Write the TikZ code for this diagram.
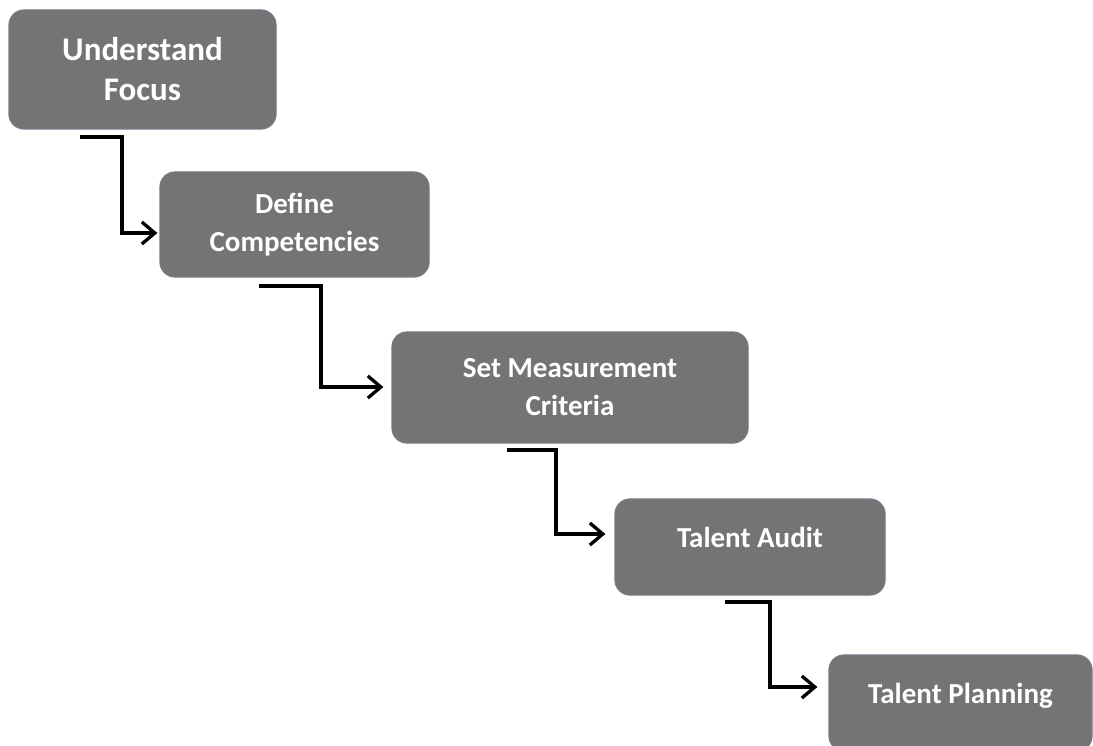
\documentclass[tikz,border=0pt]{standalone}
\usepackage{fontspec}
\setmainfont{Carlito}
\usetikzlibrary{arrows.meta}
\definecolor{boxfill}{HTML}{747474}
\definecolor{boxline}{HTML}{6E7A86}
\tikzset{
  stepbox/.style={draw=boxline, line width=1.2pt, fill=boxfill, rounded corners=15pt,
    text=white, align=center, inner sep=0pt, font=\bfseries\fontsize{29}{38}\selectfont},
  bigtext/.style={font=\bfseries\fontsize{33}{40}\selectfont},
  oneline/.style={text height=20pt, text depth=20pt},
  flow/.style={draw=black, line width=3.3pt, -{Straight Barb[length=13pt,width=22pt,line width=3.3pt]}}
}
\begin{document}
\begin{tikzpicture}[x=1pt,y=-1pt]
\useasboundingbox (0,0) rectangle (1093,746);
\node[stepbox, bigtext, minimum width=267, minimum height=119] (b1) at (142.5,69.5) {Understand\\Focus};
\node[stepbox, minimum width=269, minimum height=105] (b2) at (294.5,224.5) {Define\\Competencies};
\node[stepbox, minimum width=356, minimum height=111] (b3) at (570,387.5) {Set Measurement\\Criteria};
\node[stepbox, oneline, minimum width=270, minimum height=96] (b4) at (750,547) {Talent Audit};
\node[stepbox, oneline, minimum width=263, minimum height=96] (b5) at (960.5,703) {Talent Planning};
% connector start and bend points
\coordinate (s1) at (80,137);   \coordinate (k1) at (122,233);
\coordinate (s2) at (259,286);  \coordinate (k2) at (321,387);
\coordinate (s3) at (507,450);  \coordinate (k3) at (556,534);
\coordinate (s4) at (725,602);  \coordinate (k4) at (770,687);
\draw[flow] (s1) -| (k1) -- ([xshift=-2pt]k1 -| b2.west);
\draw[flow] (s2) -| (k2) -- ([xshift=-8pt]k2 -| b3.west);
\draw[flow] (s3) -| (k3) -- ([xshift=-9pt]k3 -| b4.west);
\draw[flow] (s4) -| (k4) -- ([xshift=-11pt]k4 -| b5.west);
\end{tikzpicture}
\end{document}
